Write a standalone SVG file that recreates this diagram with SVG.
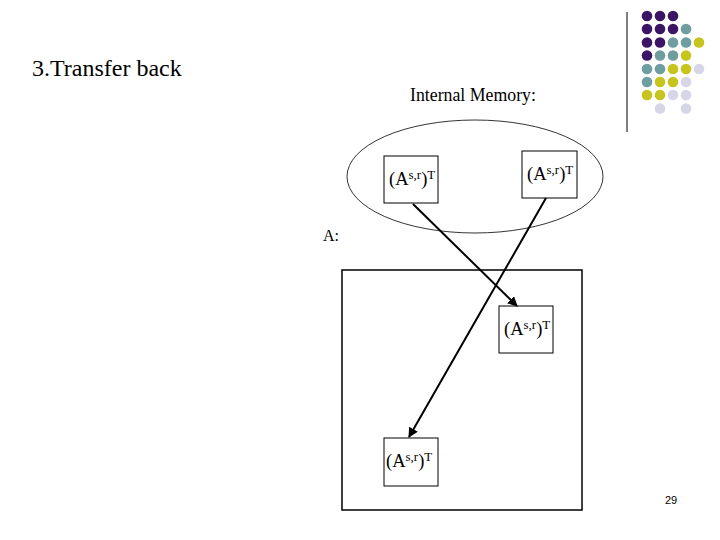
<svg xmlns="http://www.w3.org/2000/svg" width="720" height="540" viewBox="0 0 720 540">
<style>
text.t{font-family:'Liberation Serif','Times New Roman',serif;fill:#000}
.box{fill:#fff;stroke:#000;stroke-width:1}
.p{fill:#3b1466}.g{fill:#6e9e9e}.y{fill:#c8c41e}.l{fill:#d6d6e8}
.c{stroke:#000;stroke-width:2;fill:none}
</style>
<defs>
<marker id="ah" viewBox="0 0 10 10" refX="9" refY="5" markerWidth="5" markerHeight="5" orient="auto" markerUnits="strokeWidth">
<path d="M0,0 L10,5 L0,10 z" fill="#000"/>
</marker>
</defs>
<rect width="720" height="540" fill="#fff"/>
<g id="deco">
<line x1="627" y1="12" x2="627" y2="132" stroke="#000" stroke-width="1"/>
<g>
<circle class="p" cx="647" cy="16" r="5.3"/><circle class="p" cx="660" cy="16" r="5.3"/><circle class="p" cx="673" cy="16" r="5.3"/>
<circle class="p" cx="647" cy="29" r="5.3"/><circle class="p" cx="660" cy="29" r="5.3"/><circle class="p" cx="673" cy="29" r="5.3"/><circle class="g" cx="686" cy="29" r="5.3"/>
<circle class="p" cx="647" cy="42.5" r="5.3"/><circle class="p" cx="660" cy="42.5" r="5.3"/><circle class="g" cx="673" cy="42.5" r="5.3"/><circle class="g" cx="686" cy="42.5" r="5.3"/><circle class="y" cx="699" cy="42.5" r="5.3"/>
<circle class="p" cx="647" cy="55.5" r="5.3"/><circle class="g" cx="660" cy="55.5" r="5.3"/><circle class="g" cx="673" cy="55.5" r="5.3"/><circle class="y" cx="686" cy="55.5" r="5.3"/>
<circle class="g" cx="647" cy="69" r="5.3"/><circle class="g" cx="660" cy="69" r="5.3"/><circle class="y" cx="673" cy="69" r="5.3"/><circle class="y" cx="686" cy="69" r="5.3"/><circle class="l" cx="699" cy="69" r="5.3"/>
<circle class="g" cx="647" cy="82" r="5.3"/><circle class="y" cx="660" cy="82" r="5.3"/><circle class="y" cx="673" cy="82" r="5.3"/><circle class="l" cx="686" cy="82" r="5.3"/>
<circle class="y" cx="647" cy="95" r="5.3"/><circle class="y" cx="660" cy="95" r="5.3"/><circle class="l" cx="673" cy="95" r="5.3"/><circle class="l" cx="686" cy="95" r="5.3"/>
<circle class="l" cx="660" cy="108.5" r="5.3"/><circle class="l" cx="686" cy="108.5" r="5.3"/>
</g>
</g>
<text class="t" font-family="Liberation Serif, Times New Roman, serif" x="32" y="75.5" font-size="24">3.Transfer back</text>
<text class="t" font-family="Liberation Serif, Times New Roman, serif" x="410" y="100.5" font-size="17.8">Internal Memory:</text>
<g id="memory"><ellipse cx="475" cy="176.5" rx="128" ry="56.5" fill="none" stroke="#000" stroke-width="0.8"/></g>
<text class="t" font-family="Liberation Serif, Times New Roman, serif" x="323" y="241" font-size="16">A:</text>
<g id="matrixA"><rect x="342" y="270" width="240" height="240" fill="none" stroke="#000" stroke-width="1.5"/></g>
<g id="m1"><rect class="box" x="384" y="156" width="54" height="47"/>
<text class="t" font-family="Liberation Serif, Times New Roman, serif" x="389" y="185" font-size="18.5">(A<tspan font-size="13" dy="-6">s,r</tspan><tspan dy="6">)</tspan><tspan font-size="13" dy="-6">T</tspan></text></g>
<g id="m2"><rect class="box" x="522" y="151" width="55" height="47"/>
<text class="t" font-family="Liberation Serif, Times New Roman, serif" x="527" y="180" font-size="18.5">(A<tspan font-size="13" dy="-6">s,r</tspan><tspan dy="6">)</tspan><tspan font-size="13" dy="-6">T</tspan></text></g>
<g id="m3"><rect class="box" x="499" y="306" width="54" height="47"/>
<text class="t" font-family="Liberation Serif, Times New Roman, serif" x="504" y="335" font-size="18.5">(A<tspan font-size="13" dy="-6">s,r</tspan><tspan dy="6">)</tspan><tspan font-size="13" dy="-6">T</tspan></text></g>
<g id="m4"><rect class="box" x="384" y="438" width="54" height="48"/>
<text class="t" font-family="Liberation Serif, Times New Roman, serif" x="386" y="467" font-size="18.5">(A<tspan font-size="13" dy="-6">s,r</tspan><tspan dy="6">)</tspan><tspan font-size="13" dy="-6">T</tspan></text></g>
<g id="connectors">
<line class="c" x1="413" y1="204" x2="517" y2="306" marker-end="url(#ah)"/>
<line class="c" x1="546" y1="198" x2="409" y2="437" marker-end="url(#ah)"/>
</g>
<text x="665" y="504" font-family="Liberation Sans, Arial, sans-serif" font-size="11" fill="#000">29</text>
</svg>
